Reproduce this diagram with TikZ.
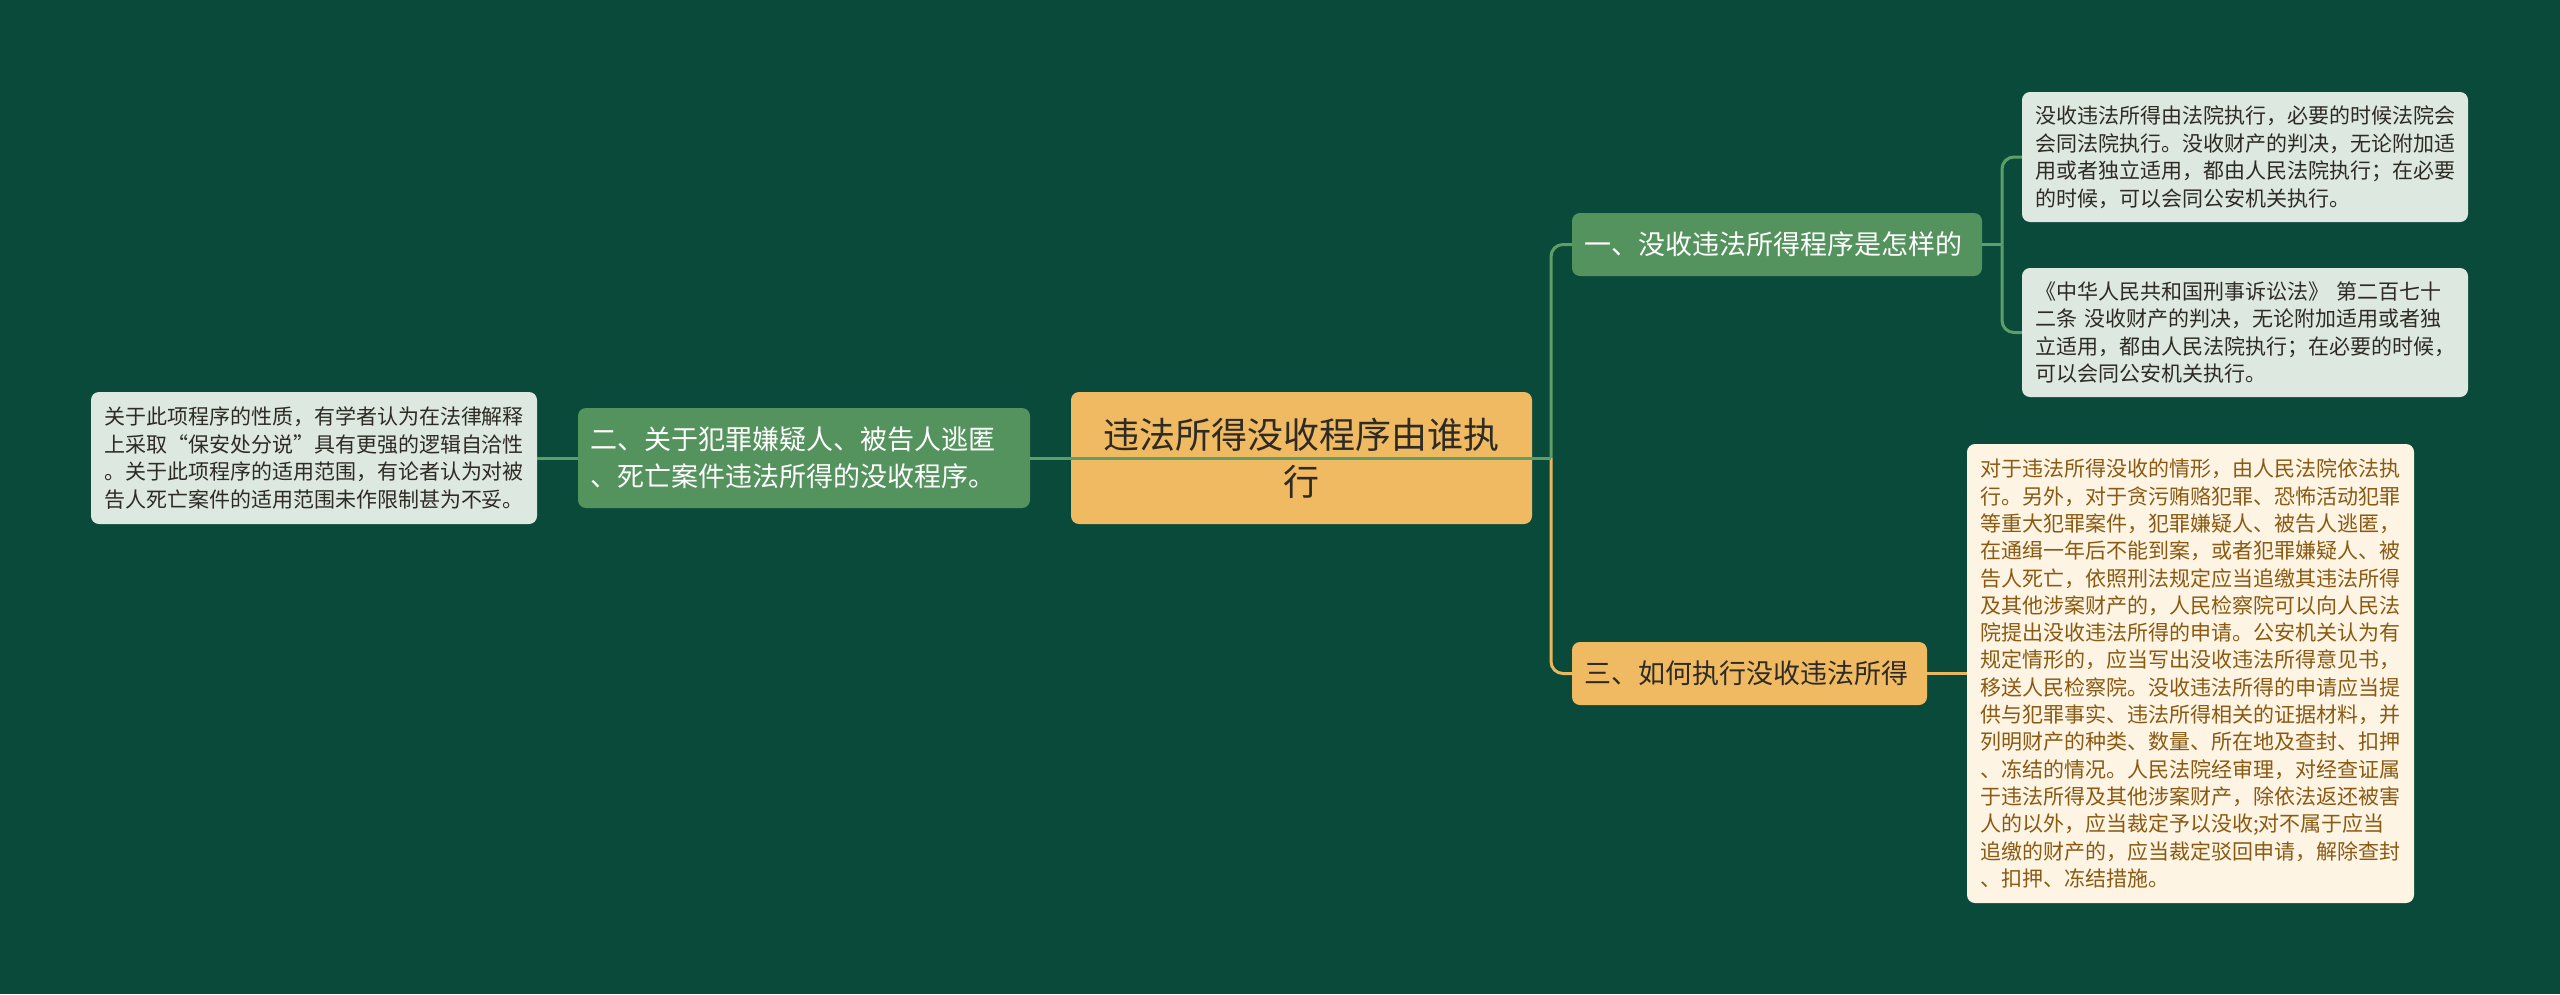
\documentclass[tikz,border=0pt]{standalone}
\usepackage{fontspec}
\setmainfont{Noto Sans CJK SC}
\definecolor{bg}{HTML}{0A4A3A}
\definecolor{orangeF}{HTML}{F0BA62}
\definecolor{greenF}{HTML}{55935E}
\definecolor{leafF}{HTML}{DDE9E0}
\definecolor{creamF}{HTML}{FDF4E4}
\definecolor{brownT}{HTML}{8A5A12}
\definecolor{darkT}{HTML}{2E2A24}
\definecolor{conGreen}{HTML}{5E9E68}
\definecolor{conYellow}{HTML}{E8B760}
\tikzset{
  box/.style={rounded corners=8pt, inner ysep=0pt, anchor=center},
  centerbox/.style={box, fill=orangeF, text=darkT, align=center, inner xsep=10pt,
     font=\fontsize{36}{47}\selectfont},
  greenbox/.style={box, fill=greenF, text=white, align=left, inner xsep=12pt,
     font=\fontsize{27}{37}\selectfont},
  yellowbox/.style={box, fill=orangeF, text=darkT, align=left, inner xsep=12pt,
     font=\fontsize{27}{37}\selectfont},
  leafbox/.style={box, fill=leafF, text=darkT, align=left, inner xsep=13pt,
     text width=420pt, font=\fontsize{21}{27.5}\selectfont},
  creambox/.style={box, fill=creamF, text=brownT, align=left, inner xsep=13pt,
     text width=421pt, font=\fontsize{21}{27.3}\selectfont},
  conG/.style={draw=conGreen, line width=3pt},
  conY/.style={draw=conYellow, line width=3pt},
}
\begin{document}
\begin{tikzpicture}[x=1pt,y=-1pt]
\useasboundingbox (0,0) rectangle (2560,994);
\fill[bg] (0,0) rectangle (2560,994);

% nodes
\node[centerbox, text width=441pt, minimum height=132pt] (c) at (1301.5,458)
  {违法所得没收程序由谁执\\行};
\node[greenbox, text width=386pt, minimum height=63pt] (n1) at (1777,244.5)
  {一、没收违法所得程序是怎样的};
\node[yellowbox, text width=331pt, minimum height=63pt] (n3) at (1749.5,673.5)
  {三、如何执行没收违法所得};
\node[greenbox, text width=428pt, minimum height=100pt] (n2) at (804,458)
  {二、关于犯罪嫌疑人、被告人逃匿\\、死亡案件违法所得的没收程序。};
\node[leafbox, minimum height=132pt] (lL) at (314,458)
  {关于此项程序的性质，有学者认为在法律解释\\上采取“保安处分说”具有更强的逻辑自洽性\\。关于此项程序的适用范围，有论者认为对被\\告人死亡案件的适用范围未作限制甚为不妥。};
\node[leafbox, minimum height=130pt] (l1a) at (2245,157)
  {没收违法所得由法院执行，必要的时候法院会\\会同法院执行。没收财产的判决，无论附加适\\用或者独立适用，都由人民法院执行；在必要\\的时候，可以会同公安机关执行。};
\node[leafbox, minimum height=129pt] (l1b) at (2245,332.5)
  {《中华人民共和国刑事诉讼法》 第二百七十\\二条 没收财产的判决，无论附加适用或者独\\立适用，都由人民法院执行；在必要的时候，\\可以会同公安机关执行。};
\node[creambox, minimum height=459pt] (l3) at (2190.5,673.5)
  {对于违法所得没收的情形，由人民法院依法执\\行。另外，对于贪污贿赂犯罪、恐怖活动犯罪\\等重大犯罪案件，犯罪嫌疑人、被告人逃匿，\\在通缉一年后不能到案，或者犯罪嫌疑人、被\\告人死亡，依照刑法规定应当追缴其违法所得\\及其他涉案财产的，人民检察院可以向人民法\\院提出没收违法所得的申请。公安机关认为有\\规定情形的，应当写出没收违法所得意见书，\\移送人民检察院。没收违法所得的申请应当提\\供与犯罪事实、违法所得相关的证据材料，并\\列明财产的种类、数量、所在地及查封、扣押\\、冻结的情况。人民法院经审理，对经查证属\\于违法所得及其他涉案财产，除依法返还被害\\人的以外，应当裁定予以没收;对不属于应当\\追缴的财产的，应当裁定驳回申请，解除查封\\、扣押、冻结措施。};

% junction coordinates
\coordinate (tr) at (1551,458);
\coordinate (j1) at (2002,244.5);

% connectors
\draw[conY] (c.east) -- (tr);
\draw[conY, rounded corners=12pt] (tr) |- (n3.west);
\draw[conG] (n2.east) -- (tr);
\draw[conG, rounded corners=12pt] (tr) |- (n1.west);
\draw[conG] (n1.east) -- (j1);
\draw[conG, rounded corners=12pt] (j1) |- (l1a.west);
\draw[conG, rounded corners=12pt] (j1) |- (l1b.west);
\draw[conY] (n3.east) -- (l3.west);
\draw[conG] (lL.east) -- (n2.west);
\end{tikzpicture}
\end{document}
